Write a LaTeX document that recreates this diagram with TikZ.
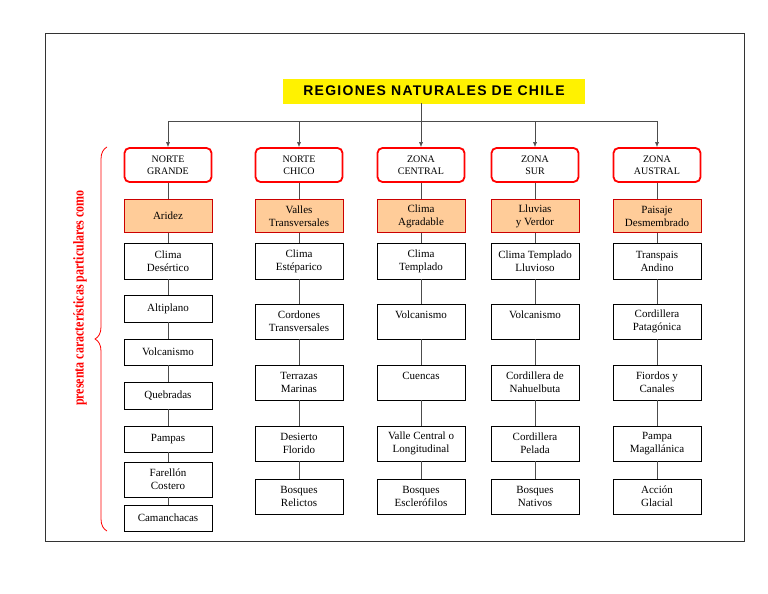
\documentclass[tikz,border=0pt]{standalone}
\usepackage{fontspec}
\setmainfont{Liberation Serif}
\newfontfamily\titlefont[LetterSpace=9]{Liberation Sans}
\newfontfamily\labfont[FakeStretch=0.8]{Liberation Serif}
\usetikzlibrary{decorations.pathreplacing,arrows.meta}
\begin{document}
\begin{tikzpicture}[x=1pt,y=-1pt,
  reg/.style={draw=red,line width=1.8pt,rounded corners=5pt,fill=white,minimum width=87pt,minimum height=34pt,align=center,font=\fontsize{10}{12}\selectfont},
  feat/.style={draw=red!80!black,fill=orange!40,minimum width=88pt,minimum height=33pt,align=center,font=\fontsize{11}{13}\selectfont},
  item/.style={draw,fill=white,minimum width=88pt,align=center,inner sep=1pt,font=\fontsize{11}{13}\selectfont},
  conn/.style={draw=black!70,line width=0.6pt}]
\useasboundingbox (0,0) rectangle (768,594);
\draw[black!80] (45,33) rectangle (744,541);
\node[fill=yellow,minimum width=302pt,minimum height=25pt,font=\titlefont\bfseries\fontsize{14}{16}\selectfont] (t) at (434,91) {REGIONES NATURALES DE CHILE};
\coordinate (h) at (421,121);
\draw[conn] (421,103) -- (h);
\draw[conn] (168,121) -- (657,121);
\foreach \x/\n/\r/\f in {168/a/{NORTE\\GRANDE}/Aridez,299/b/{NORTE\\CHICO}/{Valles\\Transversales},421/c/{ZONA\\CENTRAL}/{Clima\\Agradable},535/d/{ZONA\\SUR}/{Lluvias\\y Verdor},657/e/{ZONA\\AUSTRAL}/{Paisaje\\Desmembrado}}{
  \coordinate (\n top) at (\x,121);
  \node[feat] (\n f) at (\x,216) {\f};
  \node[reg] (\n r) at (\x,165) {\r};
  \draw[-{Latex[length=5pt,width=4pt]},conn] (\n top) -- (\n r);
  \draw[conn] (\n r) -- (\n f);
}
\foreach \y/\h/\t [count=\i] in {261/36/{Clima\\Desértico},308.5/27/Altiplano,352/26/Volcanismo,395.5/27/Quebradas,439/26/Pampas,479.5/35/{Farellón\\Costero},518/26/Camanchacas}{
  \node[item,minimum height=\h pt] (a\i) at (168,\y) {\t};
}
\draw[conn] (af) -- (a1); \draw[conn] (a1) -- (a2); \draw[conn] (a2) -- (a3); \draw[conn] (a3) -- (a4);
\draw[conn] (a4) -- (a5); \draw[conn] (a5) -- (a6); \draw[conn] (a6) -- (a7);
\foreach \x/\n/\A/\B/\C/\D/\E in {
 299/b/{Clima\\Estéparico}/{Cordones\\Transversales}/{Terrazas\\Marinas}/{Desierto\\Florido}/{Bosques\\Relictos},
 421/c/{Clima\\Templado}/{Volcanismo\\\mbox{}}/{Cuencas\\\mbox{}}/{Valle Central o\\Longitudinal}/{Bosques\\Esclerófilos},
 535/d/{Clima Templado\\Lluvioso}/{Volcanismo\\\mbox{}}/{Cordillera de\\Nahuelbuta}/{Cordillera\\Pelada}/{Bosques\\Nativos},
 657/e/{Transpais\\Andino}/{Cordillera\\Patagónica}/{Fiordos y\\Canales}/{Pampa\\Magallánica}/{Acción\\Glacial}}{
  \node[item,minimum height=36pt] (\n1) at (\x,261) {\A};
  \node[item,minimum height=35pt] (\n2) at (\x,321.5) {\B};
  \node[item,minimum height=35pt] (\n3) at (\x,382.5) {\C};
  \node[item,minimum height=35pt] (\n4) at (\x,443.5) {\D};
  \node[item,minimum height=35pt] (\n5) at (\x,496.5) {\E};
  \draw[conn] (\n f) -- (\n1); \draw[conn] (\n1) -- (\n2); \draw[conn] (\n2) -- (\n3);
  \draw[conn] (\n3) -- (\n4); \draw[conn] (\n4) -- (\n5);
}
\coordinate (b1) at (107,147); \coordinate (b2) at (107,531);
\draw[red,line width=0.8pt,decorate,decoration={brace,amplitude=12pt,aspect=0.5,mirror}] (b1) -- (b2);
\node[red,rotate=90,font=\labfont\bfseries\fontsize{15}{17}\selectfont] (lab) at (80,298) {presenta características particulares como};
\end{tikzpicture}
\end{document}
